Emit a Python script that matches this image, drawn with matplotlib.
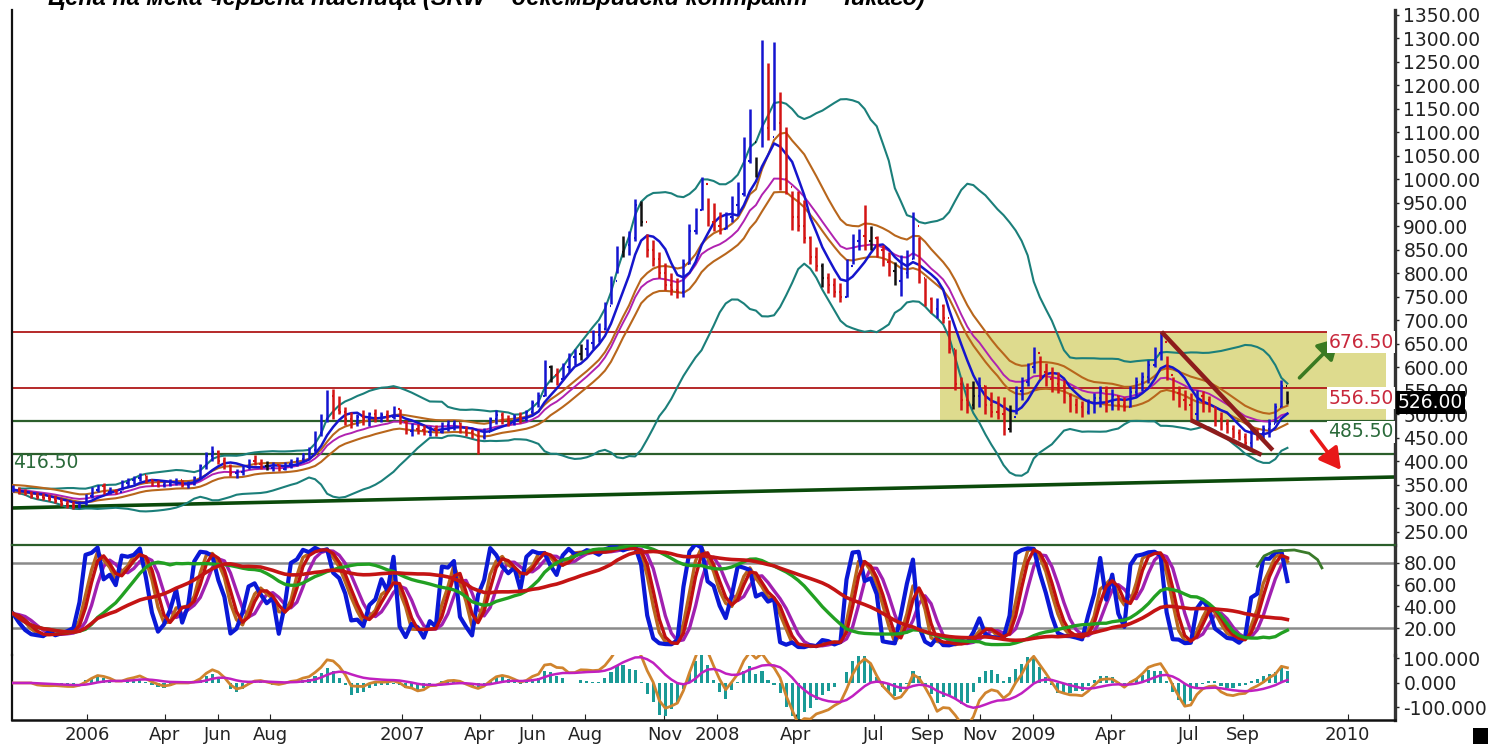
import numpy as np
import pandas as pd
import matplotlib
matplotlib.use("Agg")
import matplotlib.pyplot as plt
import matplotlib.dates as mdates
from matplotlib.patches import Rectangle

# ---------------- data (weekly bars) ----------------
start_date = "2005-10-07"
highs = [350, 345, 342, 338, 335, 333, 330, 328, 322, 318, 315, 316, 330, 345, 350, 355, 345, 342, 360, 365,
         370, 375, 372, 362, 360, 358, 362, 365, 360, 358, 370, 395, 420, 432, 425, 410, 395, 385, 392, 405,
         414, 405, 400, 398, 395, 398, 405, 410, 418, 430, 465, 500, 552, 555, 540, 515, 505, 500, 510, 505,
         512, 505, 510, 518, 512, 488, 482, 480, 478, 475, 478, 485, 488, 488, 484, 475, 470, 468, 472, 495,
         510, 505, 498, 500, 505, 510, 530, 548, 615, 605, 598, 610, 630, 640, 650, 660, 680, 695, 740, 795,
         858, 880, 890, 958, 955, 885, 872, 845, 822, 800, 790, 830, 905, 940, 1005, 960, 950, 930, 930, 965,
         995, 1090, 1150, 1048, 1297, 1248, 1293, 1186, 1112, 975, 975, 956, 880, 856, 822, 801, 790, 780, 830, 885,
         895, 945, 900, 880, 860, 845, 825, 840, 850, 930, 878, 790, 750, 748, 735, 700, 640, 580, 567, 572,
         580, 562, 548, 540, 537, 520, 560, 580, 610, 643, 625, 610, 600, 590, 573, 545, 535, 528, 532, 545,
         560, 560, 555, 542, 537, 560, 580, 590, 616, 643, 676, 625, 580, 560, 552, 546, 552, 550, 540, 515,
         505, 490, 478, 470, 460, 474, 472, 478, 490, 525, 573, 550]
lows = [335, 330, 328, 322, 320, 318, 315, 312, 305, 300, 298, 300, 308, 322, 335, 330, 330, 330, 340, 348,
        352, 358, 355, 348, 345, 345, 348, 350, 345, 343, 350, 365, 385, 400, 395, 385, 370, 365, 372, 385,
        392, 385, 382, 380, 380, 382, 386, 390, 400, 408, 420, 455, 485, 490, 500, 478, 472, 475, 478, 476,
        485, 484, 486, 490, 480, 458, 455, 458, 456, 455, 455, 460, 465, 468, 460, 455, 450, 415, 448, 465,
        480, 480, 475, 478, 482, 486, 500, 515, 540, 570, 562, 575, 590, 605, 615, 625, 640, 655, 680, 735,
        800, 835, 840, 870, 900, 835, 815, 790, 765, 755, 748, 750, 820, 885, 935, 900, 890, 885, 895, 910,
        925, 965, 1035, 1005, 1070, 1085, 1105, 978, 970, 893, 890, 865, 820, 805, 772, 758, 750, 740, 750, 820,
        850, 850, 850, 835, 815, 795, 775, 752, 790, 830, 780, 730, 716, 705, 695, 630, 552, 510, 503, 512,
        516, 500, 495, 490, 456, 462, 500, 530, 560, 588, 575, 560, 548, 545, 525, 505, 503, 495, 500, 503,
        515, 505, 510, 510, 508, 515, 537, 550, 567, 600, 616, 573, 531, 515, 510, 488, 488, 505, 505, 475,
        467, 460, 450, 446, 430, 428, 445, 448, 452, 482, 515, 522]
closes = [340, 335, 332, 326, 324, 322, 320, 316, 310, 306, 305, 312, 326, 340, 347, 335, 338, 336, 355, 360,
          365, 372, 360, 352, 350, 352, 356, 360, 350, 352, 365, 390, 412, 420, 400, 390, 375, 378, 388, 400,
          395, 390, 386, 392, 385, 394, 400, 405, 415, 425, 460, 490, 540, 510, 505, 490, 482, 495, 490, 500,
          492, 498, 495, 512, 485, 465, 470, 468, 462, 470, 462, 478, 480, 482, 465, 462, 455, 452, 462, 490,
          498, 488, 482, 495, 490, 505, 525, 540, 600, 585, 575, 600, 622, 628, 640, 652, 670, 682, 730, 785,
          845, 860, 875, 945, 910, 850, 830, 800, 775, 765, 760, 820, 890, 935, 990, 910, 900, 895, 920, 945,
          970, 1040, 1080, 1020, 1110, 1090, 1120, 1000, 985, 920, 900, 875, 835, 815, 790, 775, 760, 750, 815, 870,
          880, 870, 875, 850, 825, 805, 785, 800, 830, 900, 790, 745, 725, 730, 705, 640, 565, 530, 520, 540,
          560, 520, 505, 500, 470, 495, 550, 570, 600, 630, 590, 575, 565, 560, 540, 520, 515, 505, 525, 535,
          550, 525, 540, 520, 515, 548, 570, 580, 605, 630, 655, 585, 545, 530, 520, 500, 540, 530, 515, 490,
          480, 470, 460, 452, 440, 465, 460, 470, 480, 515, 560, 526]
neutral_weeks = [42, 89, 94, 101, 104, 123, 134, 142, 146, 159, 165, 211]

price_ticks = list(range(250, 1351, 50))
stoch_ticks = [20, 40, 60, 80]
osc_ticks = [-100, 0, 100]
x_tick_dates = ["2006-01-01", "2006-04-01", "2006-06-01", "2006-08-01", "2007-01-01", "2007-04-01",
                "2007-06-01", "2007-08-01", "2007-11-01", "2008-01-01", "2008-04-01", "2008-07-01",
                "2008-09-01", "2008-11-01", "2009-01-01", "2009-04-01", "2009-07-01", "2009-09-01",
                "2010-01-01"]
x_tick_labels = ["2006", "Apr", "Jun", "Aug", "2007", "Apr", "Jun", "Aug", "Nov", "2008", "Apr", "Jul",
                 "Sep", "Nov", "2009", "Apr", "Jul", "Sep", "2010"]

red_levels = [676.5, 556.5]
green_levels = [485.5, 416.5]
last_price = 526.0
trend_dates = ["2005-10-05", "2010-02-25"]
trend_values = [301, 367]
zone_dates = ["2008-09-15", "2010-02-14"]
zone_values = [485.5, 676.5]
wedge_upper_dates = ["2009-05-30", "2009-10-06"]
wedge_upper_values = [676, 424]
wedge_lower_dates = ["2009-07-03", "2009-09-23"]
wedge_lower_values = [488, 414]
up_arrow_dates = ["2009-11-06", "2009-12-22"]
up_arrow_values = [578, 663]
down_arrow_dates = ["2009-11-20", "2009-12-24"]
down_arrow_values = [465, 382]
arc_dates = ["2009-09-18", "2009-09-26", "2009-10-08", "2009-10-31", "2009-11-17", "2009-11-27", "2009-12-02"]
arc_values = [77, 86.5, 91, 92, 89, 83, 75.5]
title_text = "Цена на мека червена пшеница (SRW – декемврийски контракт – Чикаго)"

# ---------------- indicators ----------------
dates = pd.date_range(start_date, periods=len(closes), freq="7D")
H = pd.Series(highs, dtype=float)
L = pd.Series(lows, dtype=float)
C = pd.Series(closes, dtype=float)
O = C.shift(1).fillna(C.iloc[0])

ma_fast = C.rolling(6, min_periods=1).mean()
ma_mid = C.ewm(span=14, adjust=False).mean()
ma_hi = H.ewm(span=14, adjust=False).mean()
ma_lo = L.ewm(span=14, adjust=False).mean()
bb_mid = C.rolling(20, min_periods=2).mean()
bb_sd = C.rolling(20, min_periods=2).std(ddof=0)
bb_up = bb_mid + 2 * bb_sd
bb_dn = bb_mid - 2 * bb_sd


def stoch(n):
    ll = L.rolling(n, min_periods=1).min()
    hh = H.rolling(n, min_periods=1).max()
    return 100 * (C - ll) / (hh - ll)


k_fast = stoch(6)
k_b = k_fast.rolling(3, min_periods=1).mean()
k_r = k_b.rolling(2, min_periods=1).mean()
k_m = k_r.rolling(3, min_periods=1).mean()
k_long = stoch(26)
slow_green = k_long.rolling(12, min_periods=1).mean()
slow_red = k_long.rolling(24, min_periods=1).mean()

momentum = (C - C.shift(4)).fillna(0)
osc = momentum.ewm(span=3, adjust=False).mean()
osc_sig = osc.ewm(span=12, adjust=False).mean()
osc_hist = osc - osc_sig

# ---------------- figure ----------------
W, Hpx = 1491, 744
fig = plt.figure(figsize=(W / 100, Hpx / 100), dpi=100)
plt.rcParams["font.family"] = ["DejaVu Sans"]


def frac_box(x0, y0, x1, y1):
    return [x0 / W, 1 - y1 / Hpx, (x1 - x0) / W, (y1 - y0) / Hpx]


ax = fig.add_axes(frac_box(12, 10, 1395, 545))
axs = fig.add_axes(frac_box(12, 545, 1395, 655), sharex=ax)
axm = fig.add_axes(frac_box(12, 655, 1395, 720), sharex=ax)

d0 = mdates.date2num(pd.Timestamp(start_date))
xl = (d0 - 1.2, d0 + 1601.7)
dn = mdates.date2num(dates)

# zone
zd = mdates.date2num(pd.to_datetime(zone_dates))
ax.add_patch(Rectangle((zd[0], zone_values[0]), zd[1] - zd[0], zone_values[1] - zone_values[0],
                       facecolor="#dedb8e", edgecolor="none", zorder=0))
for lv in red_levels:
    ax.axhline(lv, color="#b01818", lw=1.3, zorder=1)
for lv in green_levels:
    ax.axhline(lv, color="#2b5e2b", lw=1.6, zorder=1)
ax.plot(pd.to_datetime(trend_dates), trend_values, color="#0b4a0b", lw=2.6, zorder=2)

# indicators on price
ax.plot(dates, bb_up, color="#1b7f7a", lw=1.5, zorder=3)
ax.plot(dates, bb_dn, color="#1b7f7a", lw=1.5, zorder=3)
ax.plot(dates, ma_hi, color="#b8661c", lw=1.5, zorder=3)
ax.plot(dates, ma_lo, color="#b8661c", lw=1.5, zorder=3)
ax.plot(dates, ma_mid, color="#b022b0", lw=1.4, zorder=3)
ax.plot(dates, ma_fast, color="#1515cc", lw=1.8, zorder=4)

# OHLC bars
cols = []
for i in range(len(closes)):
    if i in neutral_weeks:
        cols.append("#111111")
    elif C[i] >= O[i]:
        cols.append("#1414d0")
    else:
        cols.append("#d41414")
tk = 1.6
ax.vlines(dn, L, H, colors=cols, lw=1.8, zorder=5)
ax.hlines(O, dn - tk, dn, colors=cols, lw=1.5, zorder=5)
ax.hlines(C, dn, dn + tk, colors=cols, lw=1.5, zorder=5)

# wedge lines and arrows
ax.plot(pd.to_datetime(wedge_upper_dates), wedge_upper_values, color="#8e1c1c", lw=3.2, zorder=6,
        solid_capstyle="butt")
ax.plot(pd.to_datetime(wedge_lower_dates), wedge_lower_values, color="#8e1c1c", lw=3.2, zorder=6,
        solid_capstyle="butt")
for dd, vv, colr in [(up_arrow_dates, up_arrow_values, "#3a7a22"), (down_arrow_dates, down_arrow_values, "#e81818")]:
    xs = mdates.date2num(pd.to_datetime(dd))
    ax.annotate("", xy=(xs[1], vv[1]), xytext=(xs[0], vv[0]), zorder=7,
                arrowprops=dict(arrowstyle="-|>,head_length=0.8,head_width=0.45", color=colr, lw=2.6,
                                mutation_scale=16, shrinkA=0, shrinkB=0))

# level labels
lab_x = mdates.date2num(pd.Timestamp("2010-02-23"))
for txt, val, colr in [("676.50", 654, "#c8283c"), ("556.50", 535, "#c8283c"), ("485.50", 463, "#2a6a3a")]:
    ax.text(lab_x, val, txt, ha="right", va="center", fontsize=13.5, color=colr, zorder=8,
            bbox=dict(facecolor="white", edgecolor="none", pad=1.0))
ax.text(d0 + 0.5, 397, "416.50", ha="left", va="center", fontsize=13.5, color="#2a6a3a", zorder=8)
ax.text(1.0022, last_price, "526.00", transform=ax.get_yaxis_transform(), ha="left", va="center",
        fontsize=13.5, color="white", zorder=10, clip_on=False,
        bbox=dict(facecolor="black", edgecolor="none", pad=1.5))

ax.set_ylim(222.3, 1360.6)
ax.set_xlim(*xl)
ax.set_yticks(price_ticks)
ax.set_yticklabels([f"{v:.2f}" for v in price_ticks])

# stochastic panel
axs.axhline(80, color="#8a8a8a", lw=1.8, zorder=1)
axs.axhline(20, color="#8a8a8a", lw=1.8, zorder=1)
axs.plot(dates, k_m, color="#a020b0", lw=2.4, zorder=3)
axs.plot(dates, k_b, color="#b8661c", lw=2.4, zorder=3)
axs.plot(dates, k_fast, color="#0a18d6", lw=3.0, zorder=4)
axs.plot(dates, k_r, color="#c01010", lw=2.4, zorder=5)
axs.plot(dates, slow_green, color="#22a022", lw=2.4, zorder=6)
axs.plot(dates, slow_red, color="#c41414", lw=2.6, zorder=6)
axs.plot(pd.to_datetime(arc_dates), arc_values, color="#3a7a2a", lw=2.0, zorder=7)
axs.set_ylim(-4.9, 96.6)
axs.set_yticks(stoch_ticks)
axs.set_yticklabels([f"{v:.2f}" for v in stoch_ticks])

# oscillator panel
axm.bar(dates, osc_hist, width=3.6, color="#1a9a96", zorder=2)
axm.plot(dates, osc, color="#d0842e", lw=2.0, zorder=3)
axm.plot(dates, osc_sig, color="#c020c0", lw=1.8, zorder=3)
axm.set_ylim(-151, 114)
axm.set_yticks(osc_ticks)
axm.set_yticklabels([f"{v:.3f}" for v in osc_ticks])
axm.set_xticks(mdates.date2num(pd.to_datetime(x_tick_dates)))
axm.set_xticklabels(x_tick_labels)

for a in (ax, axs, axm):
    a.set_facecolor("none")
    a.yaxis.tick_right()
    a.tick_params(axis="y", labelsize=13.5, length=3, width=1, pad=3, colors="#222222")
    a.spines["left"].set_color("#111111")
    a.spines["left"].set_linewidth(1.6)
    a.spines["right"].set_color("#333333")
    a.spines["right"].set_linewidth(2.4)
    a.spines["top"].set_visible(False)
    a.spines["bottom"].set_visible(False)
for a in (ax, axs):
    a.tick_params(axis="x", bottom=False, labelbottom=False)
axs.spines["top"].set_visible(True)
axs.spines["top"].set_color("#2b5e2b")
axs.spines["top"].set_linewidth(1.6)
axm.spines["bottom"].set_visible(True)
axm.spines["bottom"].set_color("#111111")
axm.spines["bottom"].set_linewidth(1.8)
axm.tick_params(axis="x", labelsize=13, direction="in", length=4, pad=4, colors="#222222")

fig.text(925 / W, 1 - 5 / Hpx, title_text, ha="right", va="baseline", fontsize=17,
         fontweight="bold", fontstyle="italic", family=["Liberation Sans", "DejaVu Sans"])
fig.patches.append(Rectangle((1473 / W, 0), 15 / W, 16 / Hpx, transform=fig.transFigure,
                             facecolor="black", edgecolor="none"))

fig.savefig("out.png", dpi=100)
